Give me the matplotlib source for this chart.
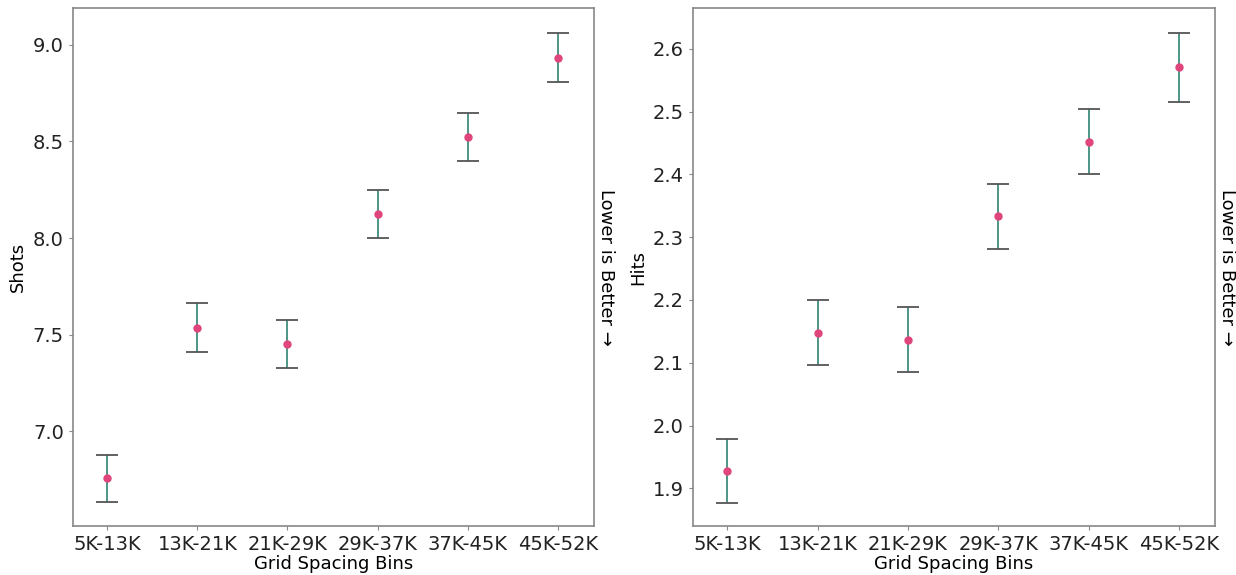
import matplotlib.pyplot as plt
import numpy as np

# bins along x
bins = ["5K-13K", "13K-21K", "21K-29K", "29K-37K", "37K-45K", "45K-52K"]

# left panel: shots
shots_mean = [6.757, 7.537, 7.452, 8.125, 8.525, 8.933]
shots_err = [0.122, 0.125, 0.122, 0.124, 0.124, 0.128]

# right panel: hits
hits_mean = [1.928, 2.148, 2.137, 2.333, 2.452, 2.571]
hits_err = [0.051, 0.052, 0.052, 0.051, 0.052, 0.055]

bar_col = "#3f8c7e"
cap_col = "#555555"
dot_col = "#e0457b"

fig = plt.figure(figsize=(12.36, 5.75), dpi=100)
ax1 = fig.add_axes([0.059, 0.0852, 0.4216, 0.9008])
ax2 = fig.add_axes([0.5607, 0.0852, 0.4223, 0.9008])


def panel(ax, mean, err, ylabel, ylim, yticks):
    x = np.arange(len(bins))
    _, caps, bars = ax.errorbar(x, mean, yerr=err, fmt="o", color=dot_col,
                                markersize=5, ecolor=bar_col, elinewidth=1.3,
                                capsize=8, capthick=1.3, zorder=3)
    for c in caps:
        c.set_markeredgecolor(cap_col)
    for b in bars:
        b.set_color(bar_col)
    ax.set_xticks(x)
    ax.set_xticklabels(bins, fontsize=14)
    ax.set_yticks(yticks)
    ax.tick_params(axis="y", labelsize=14)
    ax.set_xlim(-0.38, 5.4)
    ax.set_ylim(*ylim)
    ax.set_xlabel("Grid Spacing Bins", fontsize=13, labelpad=1)
    ax.set_ylabel(ylabel, fontsize=13, labelpad=4)
    for s in ax.spines.values():
        s.set_color("#888888")
        s.set_linewidth(1.2)
    ax.tick_params(colors="#222222", length=3, color="#888888")
    ax.text(1.006, 0.5, "Lower is Better \u2192", transform=ax.transAxes,
            rotation=270, va="center", ha="left", fontsize=13)


panel(ax1, shots_mean, shots_err, "Shots", (6.51, 9.19),
      [7.0, 7.5, 8.0, 8.5, 9.0])
panel(ax2, hits_mean, hits_err, "Hits", (1.84, 2.665),
      [1.9, 2.0, 2.1, 2.2, 2.3, 2.4, 2.5, 2.6])
ax1.yaxis.set_major_formatter(plt.FormatStrFormatter("%.1f"))
ax2.yaxis.set_major_formatter(plt.FormatStrFormatter("%.1f"))

plt.savefig("out.png", dpi=100)
